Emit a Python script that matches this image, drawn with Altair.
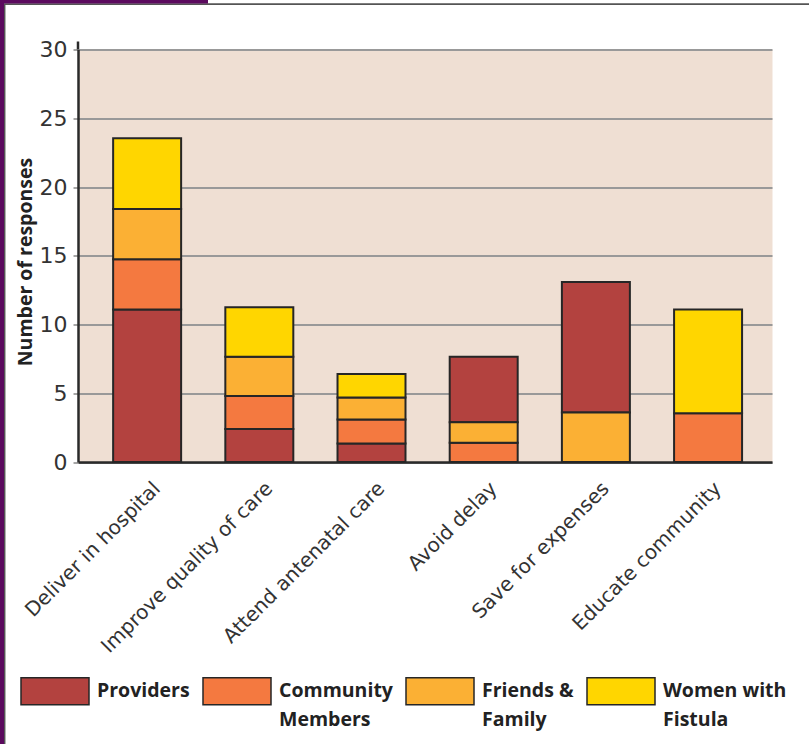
import altair as alt
import pandas as pd

categories = ["Deliver in hospital", "Improve quality of care", "Attend antenatal care",
              "Avoid delay", "Save for expenses", "Educate community"]
series = ["Providers", "Community Members", "Friends & Family", "Women with Fistula"]
providers = [11.1, 2.4, 1.35, 4.75, 9.5, 0]
community = [3.65, 2.4, 1.75, 1.4, 0, 3.55]
friends = [3.65, 2.85, 1.6, 1.5, 3.6, 0]
women = [5.15, 3.6, 1.7, 0, 0, 7.55]
# stacking order (bottom to top) for each category
stack_order = [
    ["Providers", "Community Members", "Friends & Family", "Women with Fistula"],
    ["Providers", "Community Members", "Friends & Family", "Women with Fistula"],
    ["Providers", "Community Members", "Friends & Family", "Women with Fistula"],
    ["Community Members", "Friends & Family", "Providers", "Women with Fistula"],
    ["Community Members", "Friends & Family", "Providers", "Women with Fistula"],
    ["Providers", "Community Members", "Friends & Family", "Women with Fistula"],
]
colors = ["#B3423F", "#F47940", "#FBB034", "#FFD600"]
legend_lines = {
    "Providers": ["Providers", " "],
    "Community Members": ["Community", "Members"],
    "Friends & Family": ["Friends &", "Family"],
    "Women with Fistula": ["Women with", "Fistula"],
}
y_ticks = [0, 5, 10, 15, 20, 25, 30]

values = {"Providers": providers, "Community Members": community,
          "Friends & Family": friends, "Women with Fistula": women}
rows = []
for i, cat in enumerate(categories):
    for s in series:
        v = values[s][i]
        if v > 0:
            rows.append({"category": cat, "series": s, "value": v,
                         "rank": stack_order[i].index(s)})
df = pd.DataFrame(rows)

expr = "datum.label"
for name, lines in reversed(list(legend_lines.items())):
    arr = "[" + ", ".join("'" + l + "'" for l in lines) + "]"
    expr = f"datum.label === '{name}' ? {arr} : ({expr})"

font = "DejaVu Sans"
legend_font = "Open Sans"

bars = alt.Chart(df).mark_bar(stroke="#262626", strokeWidth=2).encode(
    x=alt.X("category:N", sort=categories,
            scale=alt.Scale(paddingInner=0.394, paddingOuter=0.29, align=0.54),
            axis=alt.Axis(title=None, labelAngle=-45, labelFont=font, labelFontSize=20,
                          labelColor="#333333", ticks=False, domainColor="#2a2a2a",
                          domainWidth=2.5, labelPadding=16, labelOffset=3, grid=False,
                          labelLimit=400)),
    y=alt.Y("value:Q", stack="zero",
            scale=alt.Scale(domain=[0, 30], nice=False),
            axis=alt.Axis(values=y_ticks, title="Number of responses", titleFont=legend_font,
                          titleFontSize=19.5, titleFontWeight="bold", titleColor="#222222",
                          titlePadding=4, titleY=212, labelFont=font, labelFontSize=22,
                          labelColor="#333333", tickColor="#888888", tickSize=5,
                          tickWidth=1.5, labelPadding=6, domainColor="#2a2a2a",
                          domainWidth=2.5, gridColor="#999999", gridWidth=2)),
    color=alt.Color("series:N", scale=alt.Scale(domain=series, range=colors),
                    legend=alt.Legend(title=None, orient="none", legendX=-58, legendY=612,
                                      direction="horizontal", columns=4, columnPadding=10,
                                      symbolType="M-1,-0.559H1V0.235H-1Z", symbolSize=4624,
                                      symbolStrokeColor="#262626", symbolStrokeWidth=1.5,
                                      symbolOpacity=1, labelFont=legend_font,
                                      labelFontSize=19.5, labelFontWeight="bold",
                                      labelColor="#222222", labelBaseline="alphabetic",
                                      labelOffset=7, labelExpr=expr, labelLimit=300)),
    order=alt.Order("rank:Q", sort="ascending"),
)

deco_df = pd.DataFrame({"k": [0]})
deco = alt.Chart(deco_df)
axis_top = deco.mark_rule(color="#2a2a2a", strokeWidth=2.5).encode(
    x=alt.value(0), y=alt.value(-8), y2=alt.value(0))
left_purple = deco.mark_rule(color="#5B0A5E", strokeWidth=4).encode(
    x=alt.value(-76), y=alt.value(-50), y2=alt.value(700))
left_gray = deco.mark_rule(color="#555555", strokeWidth=1.5).encode(
    x=alt.value(-73.3), y=alt.value(-45), y2=alt.value(700))
top_gray = deco.mark_rule(color="#555555", strokeWidth=1.8).encode(
    x=alt.value(-74), x2=alt.value(735), y=alt.value(-45.3))
top_purple = deco.mark_rule(color="#5B0A5E", strokeWidth=3.6).encode(
    x=alt.value(-78), x2=alt.value(130), y=alt.value(-47.7))

chart = alt.layer(bars, axis_top, left_gray, top_gray, left_purple, top_purple).properties(
    width=694, height=412.5,
    padding={"left": 78, "top": 49.5, "right": 37, "bottom": 282},
    autosize=alt.AutoSizeParams(type="none"),
    background="white",
).configure(style={"guide-label": {"lineHeight": 29}}).configure_view(
    fill="#EFDFD3", stroke="transparent")

chart.save("out.html", embed_options={"renderer": "svg", "actions": False})
